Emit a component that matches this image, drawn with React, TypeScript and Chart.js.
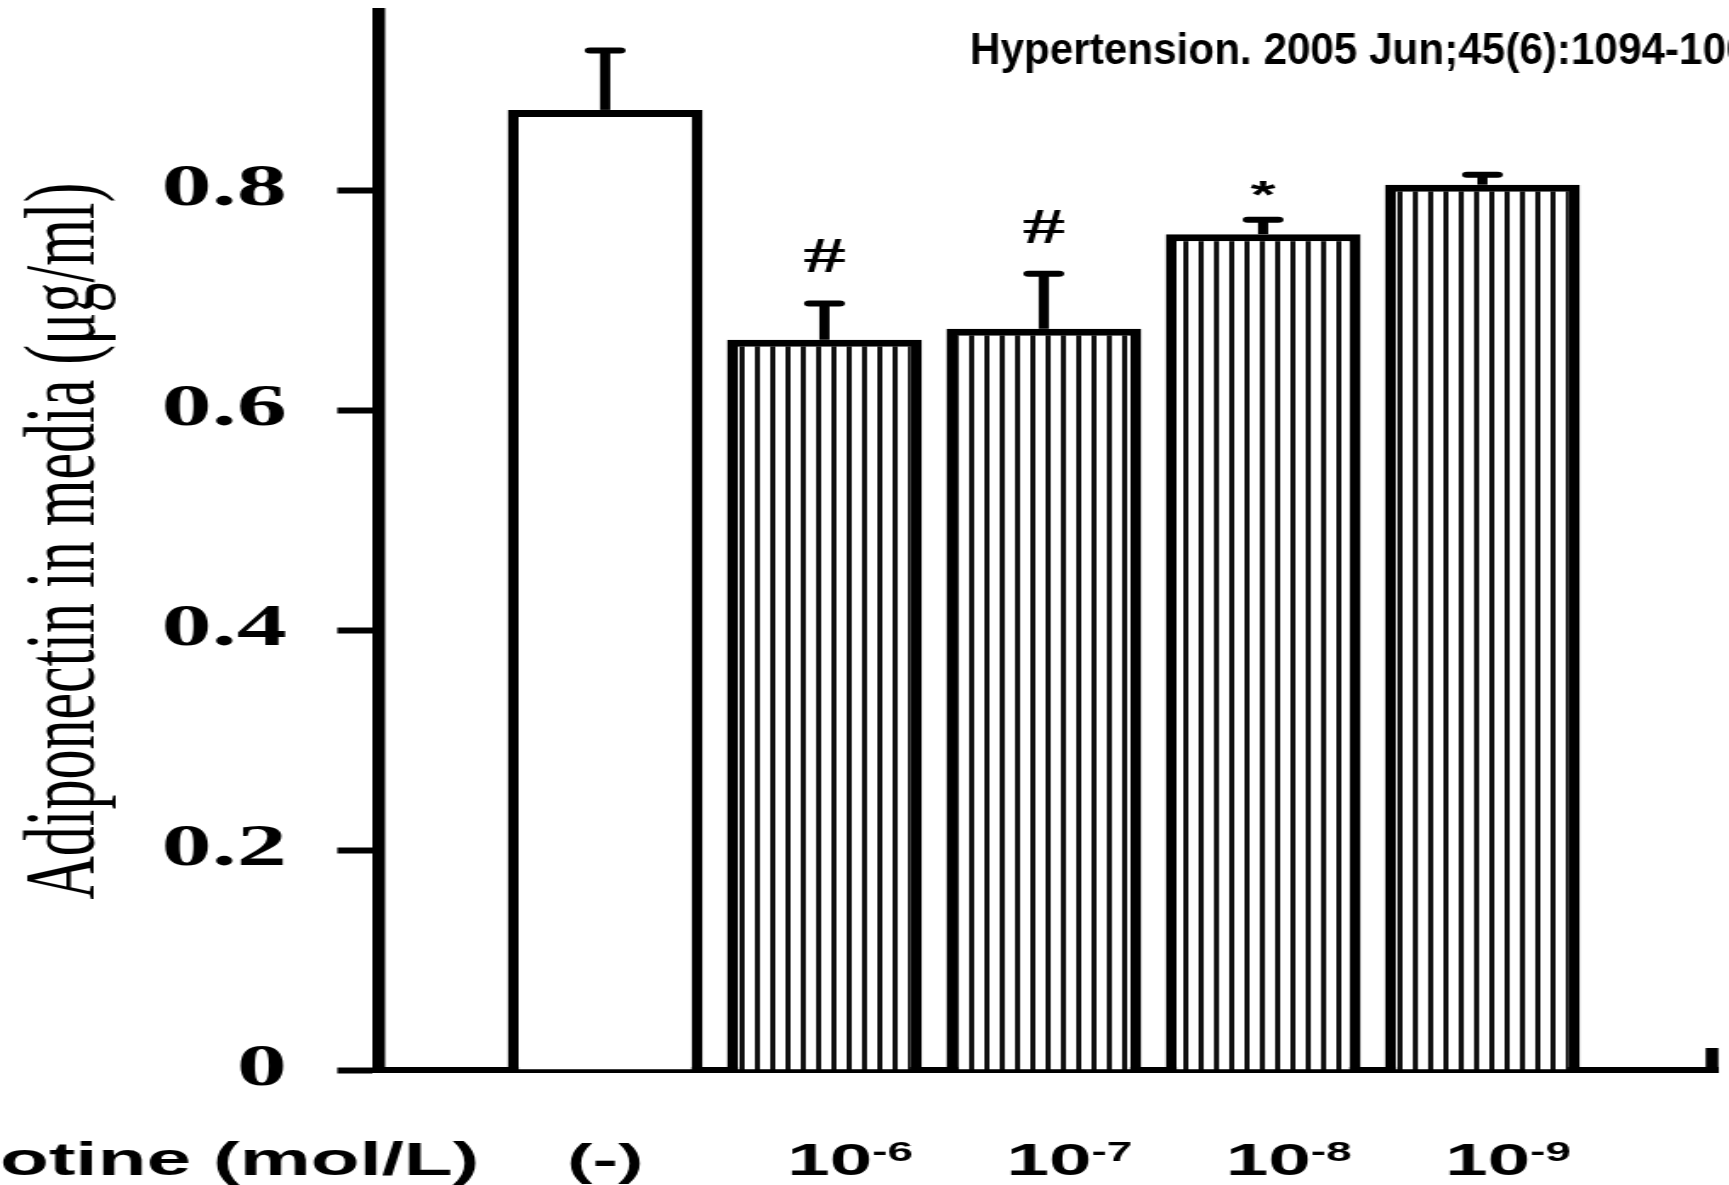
import React, { useEffect, useRef } from 'react';
import { Chart, registerables } from 'chart.js';

Chart.register(...registerables);

// ---- data ----
const categoryBase = ['(-)', '10', '10', '10', '10'];
const categoryExp = ['', '-6', '-7', '-8', '-9'];
const means = [0.873, 0.664, 0.674, 0.76, 0.805];
const errors = [0.054, 0.033, 0.05, 0.013, 0.009];
const marks = ['', '#', '#', '*', ''];
const fills = ['plain', 'striped', 'striped', 'striped', 'striped'];
const yTickValues = [0, 0.2, 0.4, 0.6, 0.8];
const yTickLabels = ['0', '0.2', '0.4', '0.6', '0.8'];
const xAxisTitle = 'Nicotine (mol/L)';
const xAxisTitleHidden = 'Nic';
const yAxisTitle = 'Adiponectin in media (\u03bcg/ml)';
const citation = 'Hypertension. 2005 Jun;45(6):1094-100.';

// ---- layout (the figure is horizontally stretched) ----
const OUT_W = 1729;
const OUT_H = 1185;
const CANVAS_W = 1017;
const S = OUT_W / CANVAS_W;

const SANS = '"Liberation Sans", Arial, sans-serif';
const SERIF = '"Liberation Serif", "Times New Roman", serif';

function makeStripePattern(ctx: CanvasRenderingContext2D) {
  const c = document.createElement('canvas');
  c.width = 9;
  c.height = 8;
  const g = c.getContext('2d')!;
  g.fillStyle = '#ffffff';
  g.fillRect(0, 0, 9, 8);
  g.fillStyle = '#111111';
  g.fillRect(3, 0, 3, 8);
  return ctx.createPattern(c, 'repeat')!;
}

const overlayPlugin = {
  id: 'overlay',
  afterDraw(chart: any) {
    const { ctx } = chart;
    const x = chart.scales.x;
    const y = chart.scales.y;
    ctx.save();
    ctx.strokeStyle = '#000';
    ctx.fillStyle = '#000';

    // error bars + significance marks
    means.forEach((m, i) => {
      const px = x.getPixelForValue(i + 1);
      const yb = y.getPixelForValue(m);
      const yt = y.getPixelForValue(m + errors[i]);
      ctx.lineWidth = 6;
      ctx.lineCap = 'butt';
      ctx.beginPath();
      ctx.moveTo(px, yb);
      ctx.lineTo(px, yt);
      ctx.stroke();
      ctx.lineCap = 'round';
      ctx.beginPath();
      ctx.moveTo(px - 9, yt);
      ctx.lineTo(px + 9, yt);
      ctx.stroke();
      const mk = marks[i];
      if (mk) {
        ctx.textAlign = 'center';
        ctx.textBaseline = 'alphabetic';
        if (mk === '*') {
          ctx.font = `bold 38px ${SANS}`;
          ctx.fillText(mk, px, yt - 12);
        } else {
          ctx.font = `bold 50px ${SERIF}`;
          ctx.fillText(mk, px, yt - 31);
        }
      }
    });

    // small upward tick at the right end of the baseline
    ctx.lineWidth = 7.5;
    ctx.lineCap = 'butt';
    ctx.beginPath();
    ctx.moveTo(x.right - 3, y.bottom + 3);
    ctx.lineTo(x.right - 3, y.bottom - 22);
    ctx.stroke();

    // category labels
    const baseY = y.bottom + 105;
    categoryBase.forEach((lab, i) => {
      const px = x.getPixelForValue(i + 1);
      const exp = categoryExp[i];
      ctx.textBaseline = 'alphabetic';
      ctx.font = `bold 45px ${SANS}`;
      if (!exp) {
        ctx.textAlign = 'center';
        ctx.fillText(lab, px, baseY);
      } else {
        const w = ctx.measureText(lab).width;
        const start = px - w / 2 + 3;
        ctx.textAlign = 'left';
        ctx.fillText(lab, start, baseY);
        ctx.font = `bold 27px ${SANS}`;
        ctx.fillText(exp, start + w, baseY - 14);
      }
    });

    // x axis title (its first letters run off the left edge)
    ctx.font = `bold 47px ${SANS}`;
    ctx.textAlign = 'left';
    const hiddenW = ctx.measureText(xAxisTitleHidden).width;
    ctx.fillText(xAxisTitle, -hiddenW, baseY);

    // citation, not stretched (slightly condensed)
    ctx.save();
    ctx.scale((1 / S) * 0.96, 1);
    ctx.font = `bold 44px ${SANS}`;
    ctx.textAlign = 'left';
    ctx.fillText(citation, 970 / 0.96, 64);
    ctx.restore();

    ctx.restore();
  },
};

export default function App() {
  const ref = useRef<HTMLCanvasElement>(null);

  useEffect(() => {
    const canvas = ref.current!;
    const ctx = canvas.getContext('2d')!;
    const pattern = makeStripePattern(ctx);
    const chart = new Chart(canvas, {
      type: 'bar',
      data: {
        datasets: [
          {
            data: means.map((v, i) => ({ x: i + 1, y: v })),
            backgroundColor: fills.map((f) => (f === 'plain' ? '#ffffff' : pattern)),
            borderColor: '#000',
            borderWidth: { top: 7, left: 6.5, right: 6.5, bottom: 0 },
            borderSkipped: 'start',
            barPercentage: 0.889,
            categoryPercentage: 1,
          } as any,
        ],
      },
      options: {
        responsive: false,
        animation: false,
        devicePixelRatio: 1,
        layout: { padding: { left: 0, right: 7, top: 12, bottom: 0 } },
        plugins: { legend: { display: false }, tooltip: { enabled: false } },
        scales: {
          x: {
            type: 'linear',
            min: -0.035,
            max: 6.07,
            offset: false,
            z: 1,
            grid: { display: true, drawOnChartArea: false, drawTicks: false, offset: false },
            border: { display: true, width: 6, color: '#000' },
            ticks: { display: false },
            afterFit: (s: any) => {
              s.height = 115;
              s.paddingLeft = 0;
              s.paddingRight = 0;
            },
          },
          y: {
            type: 'linear',
            min: 0,
            max: 0.962,
            afterBuildTicks: (s: any) => {
              s.ticks = yTickValues.map((v) => ({ value: v }));
            },
            ticks: {
              callback: (_v: any, i: number) => yTickLabels[i],
              padding: 29.6,
              color: '#000',
              font: { family: SERIF, weight: 'bold', size: 59 },
            },
            grid: {
              display: true,
              drawOnChartArea: false,
              drawTicks: true,
              tickLength: 24,
              tickWidth: 6,
              tickColor: '#000',
            },
            border: { display: true, width: 7.5, color: '#000' },
            title: {
              display: true,
              text: yAxisTitle,
              color: '#000',
              font: { family: SERIF, size: 60, weight: 'normal', lineHeight: 1 },
              padding: { top: 9, bottom: 0 },
            },
            afterFit: (s: any) => {
              s.width = 222.4;
              s.paddingTop = 0;
              s.paddingBottom = 0;
            },
          },
        },
      } as any,
      plugins: [overlayPlugin],
    });
    return () => chart.destroy();
  }, []);

  return (
    <div style={{ position: 'absolute', left: 0, top: 0, width: OUT_W, height: OUT_H, background: '#fff' }}>
      <canvas
        ref={ref}
        width={CANVAS_W}
        height={OUT_H}
        style={{ display: 'block', width: `${OUT_W}px`, height: `${OUT_H}px` }}
      />
    </div>
  );
}
